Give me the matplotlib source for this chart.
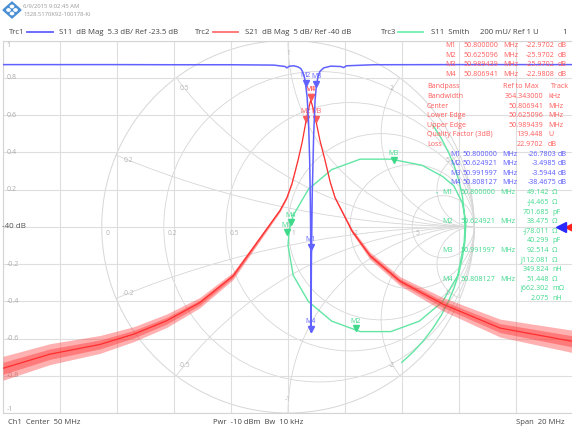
import numpy as np
import matplotlib.pyplot as plt
from matplotlib.patches import Circle, Polygon
from matplotlib.transforms import offset_copy, blended_transform_factory

plt.rcParams['font.family'] = ['Open Sans', 'DejaVu Sans']

W, H = 572, 429

# Trc2: S21 dB Mag, noise = half width of the noisy band
s21_freq = [40.0, 41.65, 43.4, 44.6, 45.75, 46.9, 48.07, 49.12, 49.72, 49.96, 50.14, 50.35,
            50.5, 50.625, 50.7, 50.8, 50.9, 50.99, 51.12, 51.3, 51.48, 51.65, 52.25, 52.88,
            53.93, 55.44, 57.44, 60.0]
s21_db = [-59.0, -57.1, -55.8, -54.4, -52.6, -50.2, -46.6, -41.0, -37.8, -36.1, -34.2, -31.1,
          -28.6, -25.97, -24.5, -22.97, -24.4, -25.97, -28.4, -31.1, -34.0, -36.1, -40.6, -43.9,
          -47.3, -50.4, -53.6, -55.4]
s21_noise = [1.6, 1.4, 1.2, 1.0, 0.9, 0.7, 0.5, 0.3, 0.2, 0.15, 0.1, 0.05,
             0.0, 0.0, 0.0, 0.0, 0.0, 0.0, 0.0, 0.05, 0.1, 0.15, 0.3, 0.5,
             0.6, 0.9, 1.2, 1.5]

# Trc1: S11 dB Mag
s11_freq = [40.0, 44.0, 46.0, 48.0, 49.5, 49.9, 49.96, 50.05, 50.2, 50.35, 50.45, 50.52, 50.58,
            50.625, 50.67, 50.72, 50.76, 50.785, 50.8, 50.808, 50.82, 50.85, 50.9, 50.95, 50.992,
            51.05, 51.12, 51.25, 51.5, 51.85, 51.95, 52.05, 53.0, 56.0, 60.0]
s11_db = [-0.43, -0.43, -0.45, -0.45, -0.5, -0.7, -0.9, -0.65, -0.6, -0.75, -1.0, -1.5, -2.3,
          -3.5, -5.0, -8.5, -14.0, -20.0, -26.78, -38.47, -29.0, -19.0, -10.5, -5.5, -3.59,
          -2.2, -1.4, -0.9, -0.65, -0.7, -0.85, -0.6, -0.45, -0.43, -0.43]

# Trc3: S11 Smith (reflection coefficient)
smith_re = [0.778, 0.823, 0.861, 0.893, 0.918, 0.936, 0.946, 0.95, 0.946,
            0.912, 0.830, 0.705, 0.552, 0.388, 0.235, 0.110, 0.028, 0.0, 0.007, 0.028,
            0.110, 0.235, 0.388, 0.552, 0.72, 0.83, 0.89, 0.935, 0.955, 0.95,
            0.936, 0.918, 0.893, 0.861, 0.823, 0.778, 0.728, 0.672, 0.611]
smith_im = [0.545, 0.475, 0.401, 0.325, 0.246, 0.165, 0.083, 0.0, -0.083,
            -0.261, -0.402, -0.507, -0.563, -0.563, -0.507, -0.402, -0.261, -0.10, -0.018, 0.061,
            0.202, 0.307, 0.363, 0.363, 0.33, 0.27, 0.22, 0.13, 0.03, -0.08,
            -0.165, -0.246, -0.325, -0.401, -0.475, -0.545, -0.611, -0.672, -0.728]

# markers
mk_names = ['M1', 'M2', 'M3', 'M4']
s21_mk_freq = [50.8, 50.625096, 50.989439, 50.806941]
s21_mk_db = [-22.9702, -25.9702, -25.9702, -22.9808]
s11_mk_freq = [50.8, 50.624921, 50.991997, 50.808127]
s11_mk_db = [-26.7803, -3.4985, -3.5944, -38.4675]
smith_mk_r = [49.142, 38.475, 92.514, 51.448]
smith_mk_x = [-4.465, -78.011, 112.081, 0.662]
smith_mk_xtxt = ['-j4.465', '-j78.011', 'j112.081', 'j662.302']
smith_mk_xunit = ['Ω', 'Ω', 'Ω', 'mΩ']
smith_mk_lc = ['701.685', '40.299', '349.824', '2.075']
smith_mk_lcunit = ['pF', 'pF', 'nH', 'nH']

bp_labels = ['Bandwidth', 'Center', 'Lower Edge', 'Upper Edge', 'Quality Factor (3dB)', 'Loss']
bp_values = ['364.343000', '50.806941', '50.625096', '50.989439', '139.448', '22.9702']
bp_units = ['kHz', 'MHz', 'MHz', 'MHz', 'U', 'dB']

BLUE = '#6161ff'
RED = '#ff2e2e'
GREEN = '#62e6a4'
RED_T = '#ff5a5a'
BLUE_T = '#5a5aff'
GREEN_T = '#3fd98c'
GRID = '#dedede'
SMITH = '#d6d6d6'
TS = 5.1  # table font size


def rect(x0, y0, x1, y1):
    return [x0 / W, 1 - y1 / H, (x1 - x0) / W, (y1 - y0) / H]


def txt(x, y, s, color='#444444', size=TS, ha='left'):
    fig.text(x / W, 1 - y / H, s, color=color, fontsize=size, ha=ha, va='center')


def draw_smith_grid(ax):
    clip = Circle((0, 0), 1, transform=ax.transData)
    ax.add_patch(Circle((0, 0), 1, fill=False, ec=SMITH, lw=0.7))
    for r in [0.2, 0.5, 1, 2, 5]:
        ax.add_patch(Circle((r / (1 + r), 0), 1 / (1 + r), fill=False, ec=SMITH, lw=0.6))
    for x in [0.2, 0.5, 1, 2, 5]:
        for s in [1, -1]:
            c = Circle((1, s / x), 1 / x, fill=False, ec=SMITH, lw=0.6)
            ax.add_patch(c)
            c.set_clip_path(clip)
    # resistance labels along the real axis
    for r, lab in zip([0, 0.2, 0.5, 1, 2, 5], ['0', '0.2', '0.5', '1', '2', '5']):
        g = (r - 1) / (r + 1)
        ax.text(g + 0.02, -0.035, lab, fontsize=4.8, color='#b4b4b4', ha='left', va='center')
    # reactance labels on the outer circle
    for x, lab in zip([0.2, 0.5, 1, 2, 5], ['0.2', '0.5', '1', '2', '5']):
        for s in [1, -1]:
            z = complex(0, s * x)
            g = (z - 1) / (z + 1)
            ax.text(g.real * 0.93, g.imag * 0.93, lab if s > 0 else '-' + lab,
                    fontsize=4.8, color='#b4b4b4', ha='center', va='center')


def put_markers(ax, xs, ys, color, names, dy=5):
    tr = offset_copy(ax.transData, fig=fig, y=2.3, units='points')
    for x, y, n in zip(xs, ys, names):
        ax.plot(x, y, 'v', color=color, markersize=4.5, transform=tr, clip_on=False)
        ax.annotate(n, (x, y), xytext=(0, dy), textcoords='offset points', ha='center',
                    va='bottom', fontsize=5.0, color=color, annotation_clip=False)


fig = plt.figure(figsize=(W / 100, H / 100), dpi=100)
plot_rect = rect(3, 40.5, 573, 413)
K = 570 / 372.5

# Smith / cartesian grid
ax = fig.add_axes(plot_rect, zorder=1)
ax.set_xlim(-K, K)
ax.set_ylim(-1, 1)
ax.set_xticks(np.linspace(-K, K, 11))
ax.set_yticks(np.linspace(-1, 1, 11))
ax.grid(True, color=GRID, lw=0.8)
ax.tick_params(length=0, labelleft=False, labelbottom=False)
for sp in ax.spines.values():
    sp.set_color('#d4d4d4')
    sp.set_linewidth(0.8)
draw_smith_grid(ax)

bt = blended_transform_factory(ax.transAxes, ax.transData)
for v in np.linspace(1, -1, 11):
    v = round(v, 1)
    if v == 0:
        ax.text(-0.002, 0, '-40 dB', transform=bt, fontsize=5.8, color='#555555', va='center')
        continue
    lab = '{:g}'.format(v)
    va = 'top' if v == 1 else ('bottom' if v == -1 else 'center')
    ax.text(0.006, v - 0.01 if v == 1 else v, lab, transform=bt, fontsize=5.0, color='#aaaaaa', va=va)

ax.plot(smith_re, smith_im, color=GREEN, lw=1.0)
zm = (np.array(smith_mk_r) + 1j * np.array(smith_mk_x)) / 50.0
gm = (zm - 1) / (zm + 1)
put_markers(ax, gm.real, gm.imag, GREEN_T, mk_names, dy=4.5)

# Trc2 S21
ax2 = fig.add_axes(plot_rect, zorder=2, frameon=False)
ax2.set_xlim(40, 60)
ax2.set_ylim(-40 - 25, -40 + 25)
ax2.axis('off')
f21 = np.array(s21_freq)
d21 = np.array(s21_db)
n21 = np.array(s21_noise)
ax2.fill_between(f21, d21 - n21, d21 + n21, color='#ff3a3a', alpha=0.4, lw=0)
ax2.fill_between(f21, d21 - 0.5 * n21, d21 + 0.5 * n21, color='#ff3a3a', alpha=0.45, lw=0)
ax2.plot(f21, d21, color=RED, lw=0.9)
put_markers(ax2, s21_mk_freq, s21_mk_db, RED_T, mk_names)

# Trc1 S11
ax1 = fig.add_axes(plot_rect, zorder=3, frameon=False)
ax1.set_xlim(40, 60)
ax1.set_ylim(-23.5 - 5 * 5.3, -23.5 + 5 * 5.3)
ax1.axis('off')
ax1.plot(s11_freq, s11_db, color=BLUE, lw=1.1)
put_markers(ax1, s11_mk_freq, s11_mk_db, BLUE, mk_names)

# reference position arrows on the right
bt1 = blended_transform_factory(ax1.transAxes, ax1.transData)
ax1.plot(0.979, -23.5, '<', color='#2a2aff', markersize=6.5, transform=bt1, clip_on=False)
bt2 = blended_transform_factory(ax2.transAxes, ax2.transData)
ax2.plot(0.995, -40, '<', color='#ff2020', markersize=6.5, transform=bt2, clip_on=False)

# header: logo and date
logo = Polygon([(12 / W, 1 - 2 / H), (21 / W, 1 - 10 / H), (12 / W, 1 - 18 / H), (3 / W, 1 - 10 / H)],
               closed=True, transform=fig.transFigure, color='#4a8fd4')
fig.patches.append(logo)
for cx, cy in [(12, 6.5), (8.5, 10), (15.5, 10), (12, 13.5)]:
    fig.patches.append(Circle((cx / W, 1 - cy / H), 1.6 / W, transform=fig.transFigure, color='white'))
txt(23, 7, '6/9/2015 9:02:45 AM', color='#999999', size=4.2)
txt(23, 15, '1328.5170K92-100178-Ki', color='#999999', size=4.2)

# trace legend line
HS = 5.6
txt(9, 32, 'Trc1', size=HS)
fig.add_artist(plt.Line2D([27 / W, 53 / W], [1 - 32 / H] * 2, color=BLUE, lw=1.3))
txt(59, 32, 'S11  dB Mag  5.3 dB/ Ref -23.5 dB', size=HS)
txt(195, 32, 'Trc2', size=HS)
fig.add_artist(plt.Line2D([213 / W, 238 / W], [1 - 32 / H] * 2, color='#ff7070', lw=1.3))
txt(245, 32, 'S21  dB Mag  5 dB/ Ref -40 dB', size=HS)
txt(381, 32, 'Trc3', size=HS)
fig.add_artist(plt.Line2D([398 / W, 423 / W], [1 - 32 / H] * 2, color='#6ff0b0', lw=1.3))
txt(431, 32, 'S11  Smith', size=HS)
txt(480, 32, '200 mU/ Ref 1 U', size=HS)
txt(562, 32, '1', size=HS)

# S21 marker table
s21_vals = ['-22.9702', '-25.9702', '-25.9702', '-22.9808']
for i, n in enumerate(mk_names):
    y = 45.5 + 9.7 * i
    txt(445, y, n, RED_T)
    txt(463, y, '{:.6f}'.format(s21_mk_freq[i]), RED_T)
    txt(503, y, 'MHz', RED_T)
    txt(555, y, s21_vals[i], RED_T, ha='right')
    txt(558, y, 'dB', RED_T)

# bandpass search results
txt(427, 87, 'Bandpass', RED_T)
txt(503, 87, 'Ref to Max', RED_T)
txt(551, 87, 'Track', RED_T)
for i, lab in enumerate(bp_labels):
    y = 96.5 + 9.6 * i
    txt(427, y, lab, RED_T)
    txt(543, y, bp_values[i], RED_T, ha='right')
    txt(548, y, bp_units[i], RED_T)

# S11 marker table
s11_vals = ['-26.7803', '-3.4985', '-3.5944', '-38.4675']
for i, n in enumerate(mk_names):
    y = 154 + 9.6 * i
    txt(450, y, n, BLUE_T)
    txt(462, y, '{:.6f}'.format(s11_mk_freq[i]), BLUE_T)
    txt(502, y, 'MHz', BLUE_T)
    txt(556, y, s11_vals[i], BLUE_T, ha='right')
    txt(558, y, 'dB', BLUE_T)

# Smith marker table
for i, n in enumerate(mk_names):
    y = 193 + 28.7 * i
    if i == 0:
        txt(436, y, '•', GREEN_T, size=4)
    txt(442, y, n, GREEN_T)
    txt(460, y, '{:.6f}'.format(s11_mk_freq[i]), GREEN_T)
    txt(500, y, 'MHz', GREEN_T)
    txt(549, y, '{:.3f}'.format(smith_mk_r[i]), GREEN_T, ha='right')
    txt(552, y, 'Ω', GREEN_T)
    txt(549, y + 9.6, smith_mk_xtxt[i], GREEN_T, ha='right')
    txt(552, y + 9.6, smith_mk_xunit[i], GREEN_T)
    txt(549, y + 19.2, smith_mk_lc[i], GREEN_T, ha='right')
    txt(552, y + 19.2, smith_mk_lcunit[i], GREEN_T)

# footer
txt(8, 423, 'Ch1  Center  50 MHz', size=5.5)
txt(213, 423, 'Pwr  -10 dBm  Bw  10 kHz', size=5.5)
txt(565, 423, 'Span  20 MHz', size=5.5, ha='right')

fig.savefig('out.png', dpi=100)
